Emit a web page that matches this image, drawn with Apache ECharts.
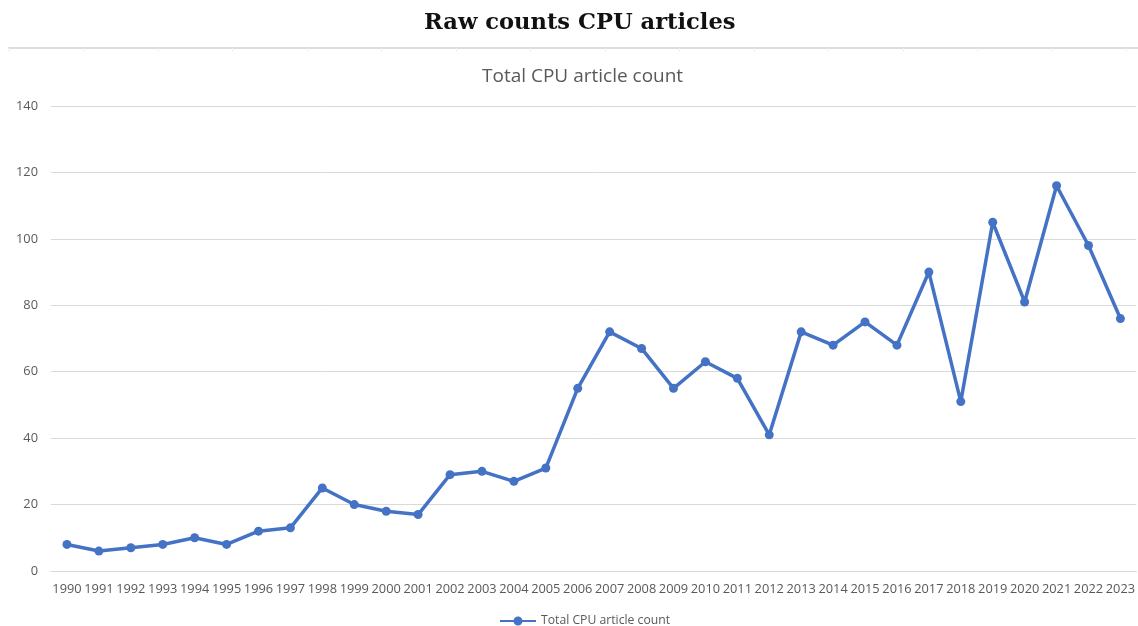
<!DOCTYPE html>
<html>
<head>
<meta charset="utf-8">
<script src="https://cdn.jsdelivr.net/npm/echarts@6/dist/echarts.min.js"></script>
<style>
  html, body { margin: 0; padding: 0; background: #ffffff; }
  #chart { width: 1138px; height: 626px; }
</style>
</head>
<body>
<div id="chart"></div>
<script>
// Yearly CPU article counts
const years = ['1990','1991','1992','1993','1994','1995','1996','1997','1998','1999',
  '2000','2001','2002','2003','2004','2005','2006','2007','2008','2009',
  '2010','2011','2012','2013','2014','2015','2016','2017','2018','2019',
  '2020','2021','2022','2023'];
const articleCounts = [8, 6, 7, 8, 10, 8, 12, 13, 25, 20,
  18, 17, 29, 30, 27, 31, 55, 72, 67, 55,
  63, 58, 41, 72, 68, 75, 68, 90, 51, 105,
  81, 116, 98, 76];
const yTicks = { min: 0, max: 140, step: 20 };
const seriesName = 'Total CPU article count';

const labelColor = '#595959';
const gridColor = '#d9d9d9';
const lineColor = '#4472C4';
const uiFont = '"Open Sans", "Noto Sans", sans-serif';

const chart = echarts.init(document.getElementById('chart'));
chart.setOption({
  backgroundColor: '#ffffff',
  animation: false,
  title: [
    {
      text: 'Raw counts CPU articles',
      left: 419,
      top: 7,
      textStyle: { fontFamily: '"DejaVu Serif", serif', fontWeight: 'bold', fontSize: 22.6, color: '#111111' }
    },
    {
      text: seriesName,
      left: 477,
      top: 62,
      textStyle: { fontFamily: uiFont, fontWeight: 'normal', fontSize: 19, color: labelColor }
    }
  ],
  legend: {
    top: 610,
    left: 495,
    itemWidth: 36,
    itemHeight: 10,
    itemGap: 4,
    textStyle: { fontFamily: uiFont, fontSize: 12.2, color: labelColor },
    data: [{ name: seriesName, icon: 'path://M0,4H36V6H0Z M18,0.5A4.5,4.5 0 1,1 17.99,0.5Z' }]
  },
  grid: [
    { left: 51, right: -1, top: 106, bottom: 55 },
    { left: 9, right: 0, top: 47, height: 1 }
  ],
  xAxis: [
    {
      type: 'category',
      gridIndex: 0,
      data: years,
      boundaryGap: true,
      axisLine: { show: true, lineStyle: { color: gridColor, width: 1 } },
      axisTick: { show: false },
      axisLabel: { interval: 0, margin: 12, fontFamily: uiFont, fontSize: 12.8, color: labelColor }
    },
    {
      // rule under the page heading
      type: 'value',
      gridIndex: 1,
      min: 0,
      max: 1129,
      interval: 74.5,
      axisLine: { show: true, lineStyle: { color: '#dddddd', width: 2 } },
      axisTick: { show: true, inside: false, length: 4, lineStyle: { color: '#f0f0f0' } },
      axisLabel: { show: false },
      splitLine: { show: false }
    }
  ],
  yAxis: [
    {
      type: 'value',
      gridIndex: 0,
      min: yTicks.min,
      max: yTicks.max,
      interval: yTicks.step,
      axisLine: { show: false },
      axisTick: { show: false },
      axisLabel: { margin: 13, fontFamily: uiFont, fontSize: 12.8, color: labelColor },
      splitLine: { lineStyle: { color: gridColor, width: 1 } }
    },
    {
      type: 'value',
      gridIndex: 1,
      show: false
    }
  ],
  series: [
    {
      name: seriesName,
      type: 'line',
      xAxisIndex: 0,
      yAxisIndex: 0,
      data: articleCounts,
      symbol: 'circle',
      symbolSize: 9,
      itemStyle: { color: lineColor },
      lineStyle: { color: lineColor, width: 3.5 }
    }
  ]
});
</script>
</body>
</html>
